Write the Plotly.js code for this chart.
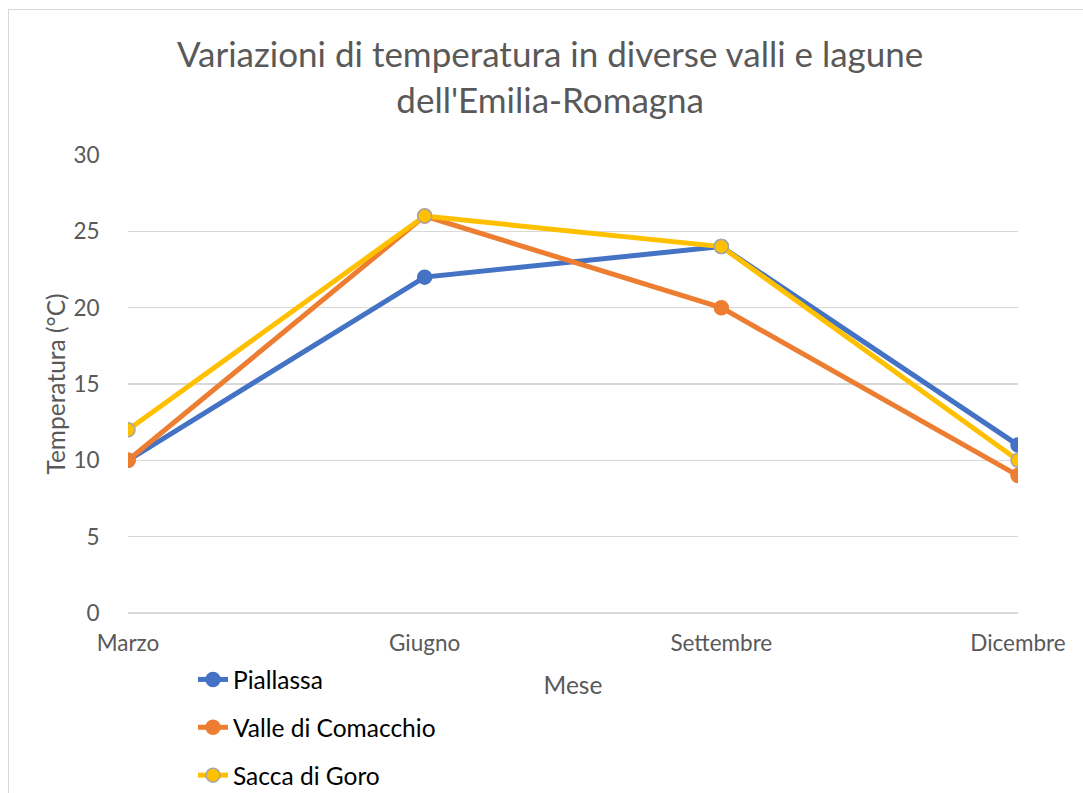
<!DOCTYPE html>
<html>
<head>
<meta charset="utf-8">
<script src="https://cdn.plot.ly/plotly-3.0.1.min.js"></script>
<style>
html,body{margin:0;padding:0;background:#fff;overflow:hidden;}
#chart{width:1083px;height:793px;position:absolute;left:0;top:0;}
#frame{position:absolute;left:8px;top:9px;width:1200px;height:900px;border:1.5px solid #d9d9d9;pointer-events:none;}
</style>
</head>
<body>
<div id="chart"></div>
<div id="frame"></div>
<script>
const months = ["Marzo", "Giugno", "Settembre", "Dicembre"];
const seriesNames = ["Piallassa", "Valle di Comacchio", "Sacca di Goro"];
const piallassa = [10, 22, 24, 11];
const comacchio = [10, 26, 20, 9];
const goro = [12, 26, 24, 10];
const yTicks = [0, 5, 10, 15, 20, 25, 30];

const FONT = "Lato, 'Open Sans', sans-serif";
const colors = ["#4472C4", "#ED7D31", "#FFC000"];
const markerLines = ["#4472C4", "#ED7D31", "#A5A5A5"];
const values = [piallassa, comacchio, goro];

const traces = values.map((v, i) => ({
  type: "scatter",
  mode: "lines+markers",
  name: seriesNames[i],
  legendgroup: "g" + i,
  x: months,
  y: v,
  line: {color: colors[i], width: 5},
  marker: {symbol: "circle", size: 14, color: colors[i], line: {color: markerLines[i], width: 1.5}},
  hoverinfo: "skip"
}));

const PL = 128, PR = 1018, PT = 155, PB = 613;
const layout = {
  width: 1083, height: 793,
  margin: {l: PL, r: 1083 - PR, t: PT, b: 793 - PB, autoexpand: false},
  paper_bgcolor: "rgba(0,0,0,0)",
  plot_bgcolor: "rgba(0,0,0,0)",
  font: {family: FONT, color: "#595959"},
  title: {
    text: "Variazioni di temperatura in diverse valli e lagune<br>dell'Emilia-Romagna",
    font: {family: FONT, size: 35, color: "#595959"},
    xref: "container", x: 0.508, xanchor: "center",
    yref: "container", y: 1 - 67 / 793, yanchor: "middle"
  },
  xaxis: {
    type: "category",
    categoryorder: "array",
    categoryarray: months,
    range: [0, 3],
    showgrid: false, zeroline: false, showline: false,
    ticks: "", ticklabelstandoff: 14,
    tickfont: {family: FONT, size: 22.5, color: "#595959"},
    title: {text: "Mese", font: {family: FONT, size: 24.5, color: "#595959"}, standoff: 22}
  },
  yaxis: {
    range: [0, 30],
    tickvals: yTicks,
    ticktext: yTicks.map(String),
    showgrid: true, gridcolor: "#d9d9d9", gridwidth: 1.3,
    zeroline: true, zerolinecolor: "#d9d9d9", zerolinewidth: 1.3,
    showline: false,
    ticks: "outside", ticklen: 23, tickcolor: "rgba(0,0,0,0)",
    tickfont: {family: FONT, size: 22.5, color: "#595959"},
    title: {text: "Temperatura (°C)", font: {family: FONT, size: 24.5, color: "#595959"}, standoff: 0}
  },
  showlegend: true,
  legend: {
    orientation: "v",
    xref: "paper", yref: "paper",
    x: (193 - PL) / (PR - PL), xanchor: "left",
    y: (PB - 657) / (PB - PT), yanchor: "top",
    font: {family: FONT, size: 24.5, color: "#000000"},
    tracegroupgap: 13,
    bgcolor: "rgba(0,0,0,0)",
    borderwidth: 0
  },
  hovermode: false
};

Plotly.newPlot("chart", traces, layout, {displayModeBar: false, staticPlot: true});
</script>
</body>
</html>
